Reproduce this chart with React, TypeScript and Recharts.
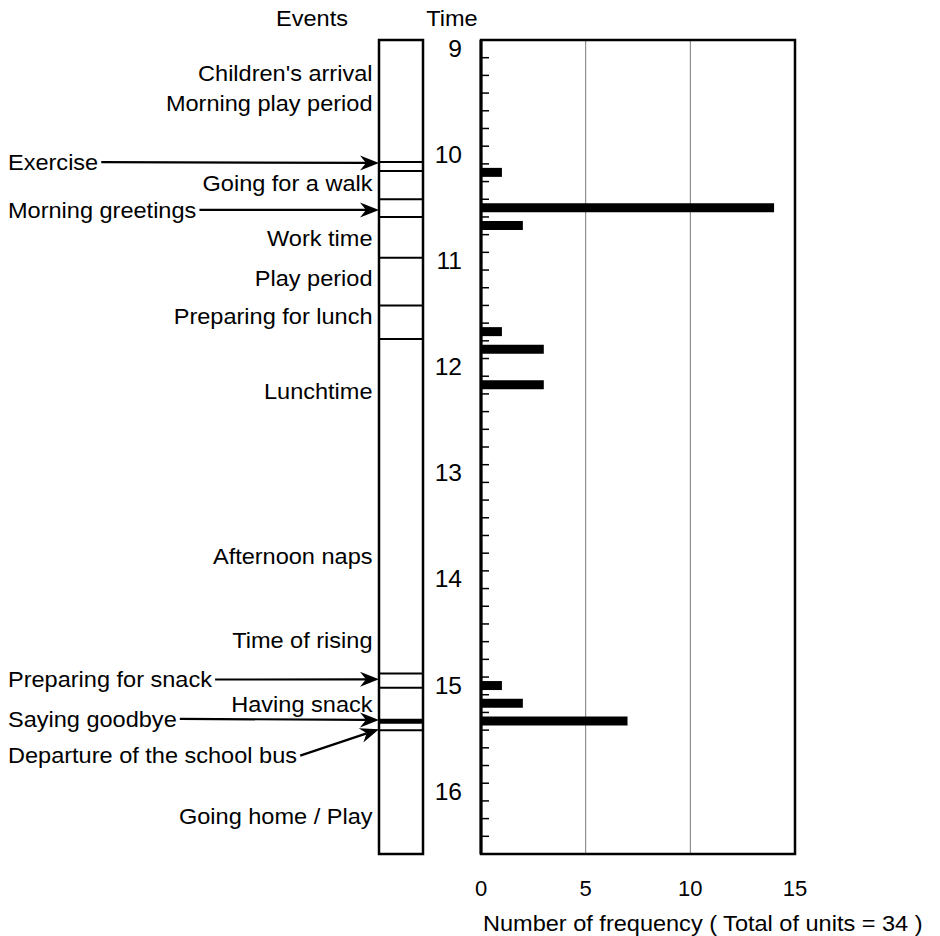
import React from 'react'
import {
  ComposedChart,
  Bar,
  XAxis,
  YAxis,
  CartesianGrid,
  ReferenceLine,
  ReferenceArea,
} from 'recharts'

const hm = (h: number, m: number) => h + m / 60

// units observed per 10-minute slot (slot mid-point)
const slotTimes = [hm(10, 15), hm(10, 35), hm(10, 45), hm(11, 45), hm(11, 55), hm(12, 15), hm(15, 5), hm(15, 15), hm(15, 25)]
const slotCounts = [1, 14, 2, 1, 3, 3, 1, 2, 7]

const dayStart = 9
const dayEnd = hm(16, 40)
const hourTicks = [9, 10, 11, 12, 13, 14, 15, 16]
const freqTicks = [0, 5, 10, 15]

// event column
const boundaryTimes = [hm(10, 9), hm(10, 14), hm(10, 30), hm(10, 40), hm(11, 3), hm(11, 30), hm(11, 49), hm(14, 58), hm(15, 6), hm(15, 30)]
const goodbyeTime = hm(15, 25)

const eventNames = [
  "Children's arrival",
  'Morning play period',
  'Exercise',
  'Going for a walk',
  'Morning greetings',
  'Work time',
  'Play period',
  'Preparing for lunch',
  'Lunchtime',
  'Afternoon naps',
  'Time of rising',
  'Preparing for snack',
  'Having snack',
  'Saying goodbye',
  'Departure of the school bus',
  'Going home / Play',
]
const eventLabelTimes = [
  hm(9, 19), hm(9, 35.5), hm(10, 9), hm(10, 21), hm(10, 36), hm(10, 52), hm(11, 14.5), hm(11, 36.3),
  hm(12, 18.4), hm(13, 52), hm(14, 39), hm(15, 1.4), hm(15, 15.3), hm(15, 23.6), hm(15, 44.4), hm(16, 18.8),
]
// time each arrow points at (null: label sits beside the column)
const eventArrowTimes: (number | null)[] = [
  null, null, hm(10, 9.5), null, hm(10, 36), null, null, null,
  null, null, null, hm(15, 1.3), null, hm(15, 24.3), hm(15, 29.5), null,
]

const slotRows = slotTimes.map((time, i) => ({ time, count: slotCounts[i] }))
const eventRows = eventNames.map((name, i) => ({ name, pos: 0, time: eventLabelTimes[i], arrowTo: eventArrowTimes[i] }))
const timeTicks = hourTicks
  .flatMap((h) => [0, 10, 20, 30, 40, 50].map((m) => hm(h, m)))
  .filter((t) => t < dayEnd - 1e-6)

const FONT = '"Liberation Sans", Arial, Helvetica, sans-serif'
const SX = 1.07
const TEXT_LEFT = 8

let ctx: CanvasRenderingContext2D | null = null
const measure = (s: string, size: number) => {
  if (!ctx) ctx = document.createElement('canvas').getContext('2d')
  if (!ctx) return s.length * size * 0.5
  ctx.font = `${size}px "Liberation Sans"`
  return ctx.measureText(s).width
}

function StretchText({ x, y, anchor = 'start', size = 22, children }: any) {
  return (
    <text
      transform={`translate(${x},${y}) scale(${SX},1)`}
      textAnchor={anchor}
      dy="0.35em"
      fontSize={size}
      fontFamily={FONT}
      fill="#000"
    >
      {children}
    </text>
  )
}

function ArrowLabel({ name, tipX, tipY, textY }: any) {
  const sx = TEXT_LEFT + measure(name, 22) * SX + 3
  const sy = textY
  const dx = tipX - sx
  const dy = tipY - sy
  const len = Math.hypot(dx, dy) || 1
  const ux = dx / len
  const uy = dy / len
  const nx = -uy
  const ny = ux
  const L = 19
  const W = 7.5
  const N = 13
  const pts = [
    [tipX, tipY],
    [tipX - L * ux + W * nx, tipY - L * uy + W * ny],
    [tipX - N * ux, tipY - N * uy],
    [tipX - L * ux - W * nx, tipY - L * uy - W * ny],
  ]
  return (
    <g>
      <StretchText x={TEXT_LEFT} y={textY}>{name}</StretchText>
      <line x1={sx} y1={sy} x2={tipX - N * ux} y2={tipY - N * uy} stroke="#000" strokeWidth={2.2} />
      <polygon points={pts.map((p) => p.join(',')).join(' ')} fill="#000" />
    </g>
  )
}

function TimeTick({ x, y, payload }: any) {
  const v = payload.value as number
  const isHour = Math.abs(v - Math.round(v)) < 1e-6
  return (
    <g>
      {v > dayStart + 1e-6 && <line x1={x} y1={y} x2={x + 8} y2={y} stroke="#000" strokeWidth={1.5} />}
      {isHour && (
        <StretchText x={x - 19} y={y + 8.5} anchor="end" size={23}>
          {Math.round(v)}
        </StretchText>
      )}
    </g>
  )
}

function FreqTick({ x, y, payload }: any) {
  return (
    <text x={x} y={y + 34} dy="0.35em" textAnchor="middle" fontSize={22} fontFamily={FONT} fill="#000">
      {payload.value}
    </text>
  )
}

function AxisTitle({ viewBox }: any) {
  return (
    <StretchText x={viewBox.x + 2} y={viewBox.y + viewBox.height - 13}>
      Number of frequency ( Total of units = 34 )
    </StretchText>
  )
}

function EventColumn() {
  return (
    <ComposedChart width={940} height={936} data={eventRows} margin={{ top: 40, right: 517, bottom: 82, left: 379 }}>
      <XAxis type="number" dataKey="pos" domain={[0, 1]} allowDataOverflow hide height={0} />
      <YAxis type="number" dataKey="time" domain={[dayStart, dayEnd]} reversed hide width={0} allowDataOverflow />
      <ReferenceArea x1={0} x2={1} y1={dayStart} y2={dayEnd} fill="none" stroke="#000" strokeWidth={2.5} ifOverflow="visible" />
      {boundaryTimes.map((t) => (
        <ReferenceLine key={t} y={t} stroke="#000" strokeWidth={2} />
      ))}
      <ReferenceLine y={goodbyeTime} stroke="#000" strokeWidth={5} />
      {eventRows.map((e) =>
        e.arrowTo == null ? (
          <ReferenceLine
            key={e.name}
            y={e.time}
            shape={(p: any) => (
              <StretchText x={p.x1 - 6.5} y={p.y1} anchor="end">
                {e.name}
              </StretchText>
            )}
          />
        ) : (
          <ReferenceLine
            key={e.name}
            segment={[
              { x: 0, y: e.arrowTo },
              { x: 0, y: e.time },
            ]}
            shape={(p: any) => <ArrowLabel name={e.name} tipX={p.x1} tipY={p.y1} textY={p.y2} />}
          />
        )
      )}
    </ComposedChart>
  )
}

function FrequencyChart() {
  return (
    <ComposedChart
      layout="vertical"
      width={940}
      height={936}
      data={slotRows}
      margin={{ top: 40, right: 145, bottom: 0, left: 421 }}
    >
      <CartesianGrid horizontal={false} stroke="#7a7a7a" strokeWidth={1} />
      <XAxis
        type="number"
        domain={[0, 15]}
        ticks={freqTicks}
        interval={0}
        axisLine={false}
        tickLine={false}
        tickSize={0}
        tickMargin={0}
        height={82}
        tick={FreqTick}
        label={<AxisTitle />}
      />
      <YAxis
        type="number"
        dataKey="time"
        domain={[dayStart, dayEnd]}
        ticks={timeTicks}
        interval={0}
        width={60}
        tickSize={0}
        tickMargin={0}
        tickLine={false}
        axisLine={{ stroke: '#000', strokeWidth: 3 }}
        tick={TimeTick}
        allowDataOverflow
      />
      <ReferenceArea x1={0} x2={15} y1={dayStart} y2={dayEnd} fill="none" stroke="#000" strokeWidth={2.5} ifOverflow="visible" />
      <Bar dataKey="count" fill="#000" barSize={9} isAnimationActive={false} />
    </ComposedChart>
  )
}

export default function App() {
  return (
    <div style={{ position: 'absolute', left: 0, top: 0, width: 940, height: 936, background: '#fff', overflow: 'hidden' }}>
      <div style={{ position: 'absolute', left: 0, top: 0 }}>
        <EventColumn />
      </div>
      <div style={{ position: 'absolute', left: 0, top: 0 }}>
        <FrequencyChart />
      </div>
      <svg style={{ position: 'absolute', left: 0, top: 0 }} width={940} height={40}>
        <StretchText x={312} y={18.5} anchor="middle">Events</StretchText>
        <StretchText x={452} y={18.5} anchor="middle">Time</StretchText>
      </svg>
    </div>
  )
}
